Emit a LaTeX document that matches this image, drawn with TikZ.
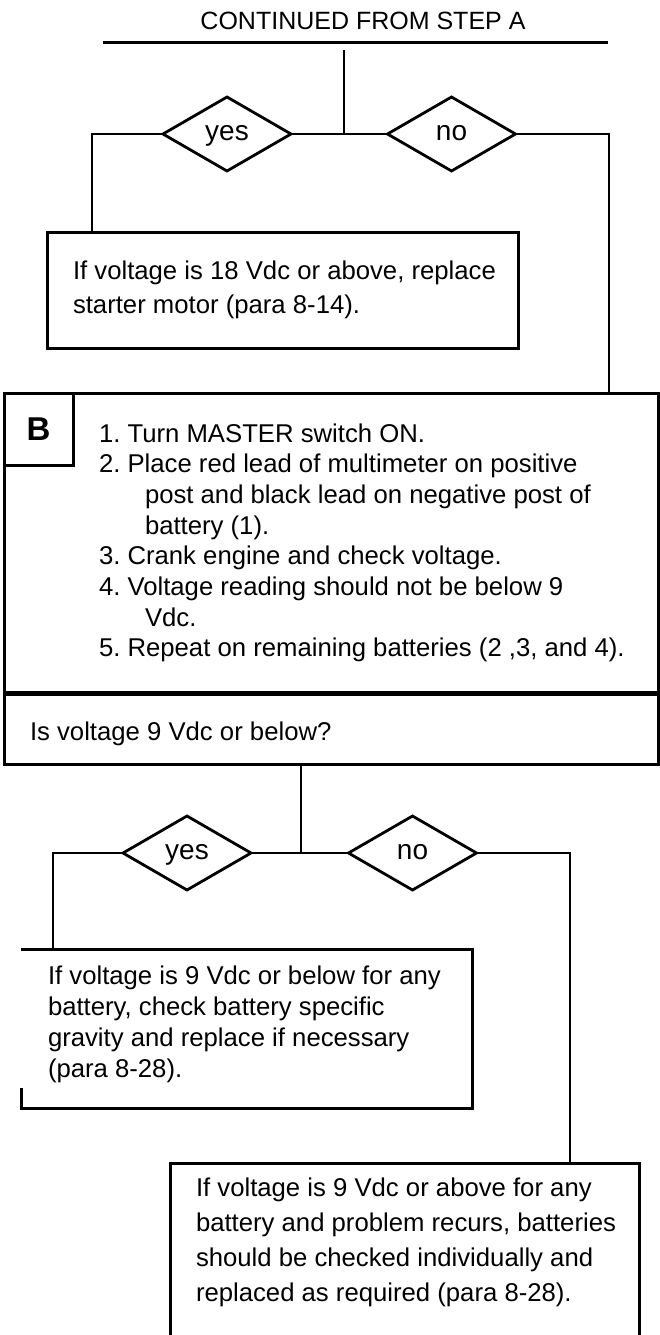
\documentclass[tikz,border=0pt]{standalone}
\usepackage{fontspec}
\setmainfont{Liberation Sans}
\usetikzlibrary{shapes.geometric}
\frenchspacing
\begin{document}
\begin{tikzpicture}[x=1pt,y=-1pt,
  every node/.style={inner sep=0pt, outer sep=0pt},
  box/.style={draw, line width=3pt, rectangle},
  boxline/.style={line width=3pt},
  dia/.style={draw, line width=2.8pt, diamond, shape aspect=1.73, minimum width=128pt, minimum height=74pt, text height=12pt, text depth=0pt, font=\fontsize{28}{28}\selectfont},
  conn/.style={line width=2.8pt},
  txt/.style={anchor=base west}
]
\useasboundingbox (0,0) rectangle (660,1335);

% title
\node[anchor=base, font=\fontsize{25}{25}\selectfont] (title) at (363,30) {CONTINUED FROM STEP A};
\coordinate (tl) at (103,43);
\coordinate (tr) at (608,43);
\draw[boxline] (tl) -- (tr);

% first decision
\coordinate (top) at (344,50);
\coordinate (j1) at (344,134);
\node[dia] (d1) at (227,134) {yes};
\node[dia] (d2) at (451.5,134) {no};
\draw[conn] (top) -- (j1);
\draw[conn] (d1.east) -- (d2.west);

% box 1
\node[box, minimum width=471pt, minimum height=116pt] (r1) at (282.5,290) {};
\node[txt] (t1) at (73,279) {\parbox[t]{460pt}{\fontsize{25.7}{34}\selectfont If voltage is 18 Vdc or above, replace\\starter motor (para 8-14).}};
\coordinate (c1) at (92,232);
\draw[conn] (d1.west) -| (c1);

% box B and question
\node[box, minimum width=654pt, minimum height=300pt] (rb) at (331,543) {};
\node[box, minimum width=654pt, minimum height=71pt] (rq) at (331,728.5) {};
\draw[line width=5pt] (rb.south west) -- (rb.south east);
\node[box, minimum width=69pt, minimum height=72pt, font=\fontsize{33}{33}\selectfont\bfseries] (bl) at (38.5,429) {B};
\coordinate (c2) at (609,393);
\draw[conn] (d2.east) -| (c2);

\node[txt] (tb) at (99,442) {\parbox[t]{560pt}{\fontsize{25.7}{30.7}\selectfont
1. Turn MASTER switch ON.\\
2. Place red lead of multimeter on positive\\
\hspace*{46pt}post and black lead on negative post of\\
\hspace*{46pt}battery (1).\\
3. Crank engine and check voltage.\\
4. Voltage reading should not be below 9\\
\hspace*{46pt}Vdc.\\
5. Repeat on remaining batteries (2 ,3, and 4).}};

\node[txt, font=\fontsize{25.7}{30.7}\selectfont] (tq) at (30,740) {Is voltage 9 Vdc or below?};

% second decision
\coordinate (q1) at (301,764);
\coordinate (j2) at (301,853);
\node[dia] (d3) at (187,853) {yes};
\node[dia] (d4) at (412.5,853) {no};
\draw[conn] (q1) -- (j2);
\draw[conn] (d3.east) -- (d4.west);

% box 2
\node[minimum width=451pt, minimum height=159pt] (r2) at (246.5,1028.5) {};
\coordinate (r2gap) at (21,1088);
\draw[boxline] (r2gap) -- (r2.south west) -- (r2.south east) -- (r2.north east) -- (r2.north west);
\node[txt] (t2) at (48,984) {\parbox[t]{430pt}{\fontsize{25.7}{31}\selectfont If voltage is 9 Vdc or below for any\\battery, check battery specific\\gravity and replace if necessary\\(para 8-28).}};
\coordinate (c3) at (53,949);
\draw[conn] (d3.west) -| (c3);

% final box
\node[minimum width=469pt, minimum height=173pt] (r3) at (404.5,1249.5) {};
\draw[boxline] (r3.south west) -- (r3.north west) -- (r3.north east) -- (r3.south east);
\node[txt] (t3) at (196,1196) {\parbox[t]{440pt}{\fontsize{25.7}{35}\selectfont If voltage is 9 Vdc or above for any\\battery and problem recurs, batteries\\should be checked individually and\\replaced as required (para 8-28).}};
\coordinate (c4) at (570,1163);
\draw[conn] (d4.east) -| (c4);
\end{tikzpicture}
\end{document}
